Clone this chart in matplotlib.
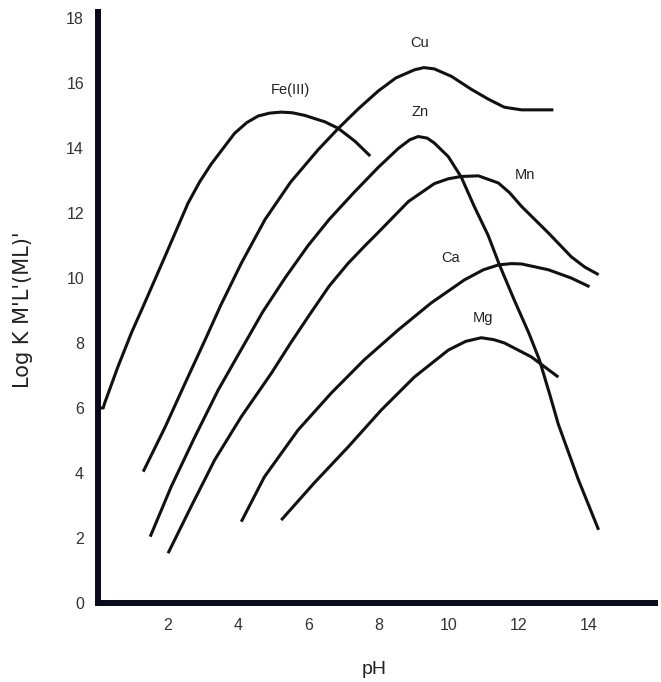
import numpy as np
import matplotlib
matplotlib.use("Agg")
import matplotlib.pyplot as plt

plt.rcParams['font.family'] = ['Liberation Sans', 'DejaVu Sans']

# Curves: (pH, Log K)
fe_ph = [0.0, 0.15, 0.19, 0.57, 0.95, 1.3, 1.92, 2.57, 2.9, 3.23, 3.9, 4.25, 4.57, 4.9, 5.23, 5.55, 5.9, 6.48, 6.86,
         7.34, 7.77]
fe_k = [6.0, 6.0, 6.15, 7.27, 8.3, 9.15, 10.68, 12.3, 12.95, 13.5, 14.45, 14.78, 14.98, 15.07, 15.1, 15.08, 15.0, 14.8,
        14.6, 14.2, 13.75]

cu_ph = [1.29, 1.92, 2.49, 3.06, 3.5, 4.09, 4.77, 5.5, 6.29, 6.86, 7.43, 8.0, 8.5, 9.03, 9.3, 9.6, 10.09,
         10.66, 11.14, 11.6, 12.09, 12.5, 13.0]
cu_k = [4.04, 5.42, 6.77, 8.1, 9.15, 10.45, 11.8, 12.95, 13.95, 14.6, 15.2, 15.75, 16.15, 16.4, 16.47, 16.43, 16.2,
        15.8, 15.5, 15.25, 15.17, 15.17, 15.17]

zn_ph = [1.49, 2.09, 2.76, 3.43, 4.09, 4.7, 5.34, 6.0, 6.6, 7.3, 8.0, 8.57, 8.9, 9.14, 9.4, 9.6, 10.0, 10.37,
         10.74, 11.14, 11.46, 11.89, 12.3, 12.6, 12.9, 13.14, 13.71, 14.29]
zn_k = [2.04, 3.58, 5.1, 6.55, 7.8, 8.95, 10.0, 11.0, 11.8, 12.62, 13.4, 13.98, 14.25, 14.35, 14.3, 14.15, 13.73, 13.1,
        12.2, 11.3, 10.4, 9.3, 8.3, 7.48, 6.4, 5.5, 3.8, 2.25]

mn_ph = [2.0, 2.66, 3.33, 4.09, 4.95, 5.5, 6.09, 6.6, 7.14, 7.63, 8.0, 8.86, 9.6, 10.0, 10.37, 10.86, 11.43, 11.75,
         12.09, 12.86, 13.51, 13.9, 14.29]
mn_k = [1.53, 2.97, 4.4, 5.73, 7.07, 8.0, 8.95, 9.75, 10.45, 11.0, 11.4, 12.35, 12.9, 13.05, 13.12, 13.14, 12.92,
        12.62, 12.2, 11.38, 10.65, 10.33, 10.1]

ca_ph = [4.09, 4.75, 5.71, 6.66, 7.6, 8.57, 9.51, 10.46, 11.0, 11.43, 11.8, 12.09, 12.86, 13.5, 14.03]
ca_k = [2.5, 3.88, 5.32, 6.46, 7.48, 8.4, 9.23, 9.94, 10.25, 10.4, 10.44, 10.43, 10.25, 10.0, 9.73]

mg_ph = [5.23, 6.17, 7.14, 8.09, 9.03, 10.0, 10.5, 10.94, 11.3, 11.6, 12.37, 13.14]
mg_k = [2.55, 3.69, 4.8, 5.94, 6.95, 7.78, 8.05, 8.16, 8.1, 8.0, 7.57, 6.95]

names = ['Fe(III)', 'Cu', 'Zn', 'Mn', 'Ca', 'Mg']
label_ph = [5.49, 9.17, 9.2, 12.2, 10.06, 11.0]
label_k = [15.78, 17.23, 15.1, 13.17, 10.6, 8.77]

x_ticks = [2, 4, 6, 8, 10, 12, 14]
y_ticks = [0, 2, 4, 6, 8, 10, 12, 14, 16, 18]

fig = plt.figure(figsize=(6.61, 6.82), dpi=100)
ax = fig.add_axes([98 / 661, 79 / 682, 557 / 661, 591 / 682])

curves = [(fe_ph, fe_k), (cu_ph, cu_k), (zn_ph, zn_k), (mn_ph, mn_k), (ca_ph, ca_k), (mg_ph, mg_k)]
for px, ky in curves:
    ax.plot(px, ky, color='#111111', lw=2.2, solid_joinstyle='round', solid_capstyle='butt')

for n, lx, ly in zip(names, label_ph, label_k):
    ax.text(lx, ly, n, fontsize=10.5, color='#222222', ha='center', va='center')

ax.set_xlim(0, 15.9)
ax.set_ylim(0, 18.18)
ax.set_xticks(x_ticks)
ax.set_yticks(y_ticks)
ax.tick_params(length=0, labelsize=11.5, labelcolor='#333333')
ax.tick_params(axis='x', pad=11)
ax.tick_params(axis='y', pad=10)

for s in ['top', 'right']:
    ax.spines[s].set_visible(False)
for s in ['left', 'bottom']:
    ax.spines[s].set_linewidth(4.3)
    ax.spines[s].set_color('#0a0a1a')
    ax.spines[s].set_capstyle('projecting')

ax.set_xlabel('pH', fontsize=14, color='#222222', va='center')
ax.xaxis.set_label_coords(0.496, -0.113)
ax.set_ylabel("Log K M'L'(ML)'", fontsize=15, color='#222222', family='DejaVu Sans')
ax.yaxis.set_label_coords(-0.117, 0.497)

fig.savefig('out.png', dpi=100)
